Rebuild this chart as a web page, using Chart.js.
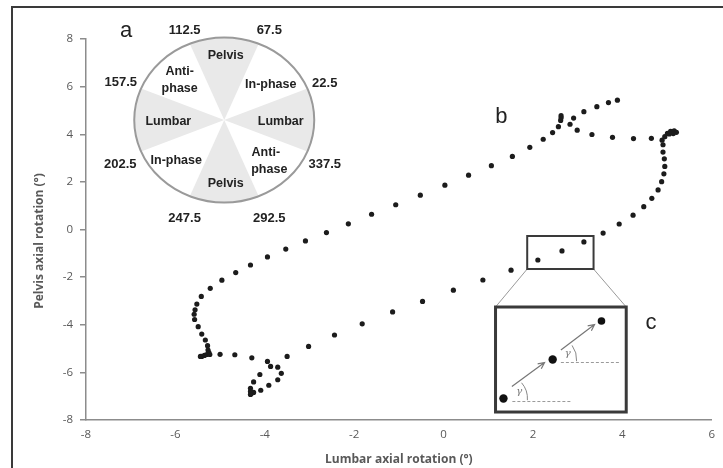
<!DOCTYPE html>
<html><head><meta charset="utf-8">
<script src="https://cdn.jsdelivr.net/npm/chart.js@4.4.1/dist/chart.umd.min.js"></script>
<style>html,body{margin:0;padding:0;background:#fff;}#wrap{width:723px;height:468px;position:relative;}</style>
</head><body><div id="wrap"><canvas id="c" width="723" height="468"></canvas></div>
<script>
// Lumbar axial rotation (x, degrees) and pelvis axial rotation (y, degrees)
const lumbar = [3.89,3.69,3.43,3.14,2.91,2.63,2.63,2.62,2.57,2.44,2.23,1.93,1.54,1.07,0.56,0.03,-0.52,-1.07,-1.61,-2.13,
  -2.62,-3.09,-3.53,-3.94,-4.32,-4.65,-4.96,-5.22,-5.42,-5.52,-5.56,-5.58,-5.57,-5.49,-5.41,-5.33,-5.28,-5.27,-5.25,-5.30,
  -5.35,-5.41,-5.44,-5.23,-5.00,-4.67,-4.29,-3.94,-3.87,-3.71,-3.63,-3.71,-3.91,-4.09,-4.25,-4.30,-4.32,-4.32,-4.32,-4.25,
  -4.11,-3.50,-3.02,-2.44,-1.82,-1.14,-0.47,0.22,0.88,1.51,2.11,2.65,3.14,3.57,3.93,4.24,4.48,4.66,4.80,4.88,
  4.93,4.95,4.94,4.91,4.91,4.89,4.95,5.01,5.08,5.16,5.21,5.14,5.05,4.65,4.25,3.78,3.32,2.99,2.83];
const pelvis = [5.43,5.33,5.16,4.95,4.68,4.78,4.69,4.58,4.32,4.07,3.79,3.45,3.07,2.68,2.28,1.86,1.44,1.04,0.64,0.24,
  -0.13,-0.48,-0.82,-1.15,-1.49,-1.81,-2.13,-2.47,-2.81,-3.13,-3.37,-3.56,-3.78,-4.08,-4.39,-4.64,-4.88,-5.06,-5.17,-5.25,
  -5.29,-5.33,-5.33,-5.25,-5.24,-5.26,-5.39,-5.54,-5.75,-5.78,-6.04,-6.31,-6.54,-6.75,-6.84,-6.89,-6.93,-6.80,-6.67,-6.40,
  -6.09,-5.33,-4.91,-4.43,-3.96,-3.46,-3.02,-2.55,-2.12,-1.71,-1.28,-0.90,-0.52,-0.15,0.23,0.60,0.96,1.31,1.66,2.01,
  2.34,2.65,2.97,3.25,3.56,3.75,3.90,4.04,4.12,4.14,4.08,4.03,4.01,3.83,3.82,3.87,3.99,4.17,4.42];
const xTicks = [-8,-6,-4,-2,0,2,4,6];
const yTicks = [-8,-6,-4,-2,0,2,4,6,8];
const xTitle = 'Lumbar axial rotation (°)';
const yTitle = 'Pelvis axial rotation (°)';
const wheelAngles = ['112.5','67.5','157.5','22.5','202.5','337.5','247.5','292.5'];

const points = lumbar.map((v,i)=>({x:v,y:pelvis[i]}));

const frame = {
  id:'frame',
  beforeDraw(chart){
    const ctx=chart.ctx; ctx.save();
    ctx.fillStyle='#fff'; ctx.fillRect(0,0,chart.width,chart.height);
    ctx.strokeStyle='#3a3a3a'; ctx.lineWidth=2;
    ctx.beginPath(); ctx.moveTo(12,chart.height+2); ctx.lineTo(12,7); ctx.lineTo(chart.width+2,7); ctx.stroke();
    ctx.restore();
  }
};

const annot = {
  id:'annot',
  afterDatasetsDraw(chart){
    const ctx=chart.ctx, xs=chart.scales.x, ys=chart.scales.y;
    const X=p=>xs.getPixelForValue((p-446.5)/45.14);
    const Y=p=>ys.getPixelForValue((229.5-p)/23.81);
    ctx.save();
    // y-axis title (placed like the reference, slightly below the plot centre)
    ctx.save();
    ctx.translate(40, Y(241)); ctx.rotate(-Math.PI/2);
    ctx.fillStyle='#595959'; ctx.textAlign='center'; ctx.textBaseline='middle';
    ctx.font='bold 12px "Open Sans", sans-serif';
    ctx.fillText(yTitle,0,0);
    ctx.restore();
    // ---- phase wheel (a)
    const cx=X(225), cy=Y(120), rx=90, ry=82.5;
    ctx.fillStyle='#e9e9e9';
    [[67.5,112.5],[157.5,202.5],[247.5,292.5],[-22.5,22.5]].forEach(([a0,a1])=>{
      ctx.beginPath(); ctx.moveTo(cx,cy);
      ctx.ellipse(cx,cy,rx,ry,0,-a0*Math.PI/180,-a1*Math.PI/180,true);
      ctx.closePath(); ctx.fill();
    });
    ctx.beginPath(); ctx.ellipse(cx,cy,rx,ry,0,0,Math.PI*2);
    ctx.strokeStyle='#9a9a9a'; ctx.lineWidth=2; ctx.stroke();
    ctx.fillStyle='#222'; ctx.textAlign='center'; ctx.textBaseline='middle';
    ctx.font='bold 13px "Liberation Sans", Arial, sans-serif';
    const angPos=[[185,30],[270.5,30],[120.5,82],[326.5,83],[120,164.5],[326.5,164],[185,218],[270.5,218.5]];
    wheelAngles.forEach((t,i)=>ctx.fillText(t,X(angPos[i][0]),Y(angPos[i][1])));
    ctx.font='bold 12.5px "Liberation Sans", Arial, sans-serif';
    [['Pelvis',226.5,56],['Anti-',180,71.5],['phase',180,88.5],['In-phase',272,85],['Lumbar',168.5,121.5],
     ['Lumbar',282,121.5],['In-phase',176.5,161],['Anti-',267,153],['phase',270.5,170],['Pelvis',226.5,183.5]]
      .forEach(([t,x,y])=>ctx.fillText(t,X(x),Y(y)));
    ctx.font='22px "Liberation Sans", Arial, sans-serif';
    ctx.fillText('a',X(126),Y(31));
    ctx.fillText('b',X(505),Y(117));
    ctx.fillText('c',X(656),Y(323));
    // ---- zoom inset (c)
    ctx.strokeStyle='#9a9a9a'; ctx.lineWidth=1;
    ctx.beginPath(); ctx.moveTo(X(531),Y(269)); ctx.lineTo(X(499),Y(307));
    ctx.moveTo(X(598),Y(269)); ctx.lineTo(X(631),Y(307)); ctx.stroke();
    ctx.strokeStyle='#3a3a3a'; ctx.lineWidth=2;
    ctx.strokeRect(X(531),Y(236),X(598)-X(531),Y(269)-Y(236));
    ctx.lineWidth=3;
    ctx.strokeRect(X(499),Y(307),X(631)-X(499),Y(412)-Y(307));
    // dashed references
    ctx.strokeStyle='#9a9a9a'; ctx.lineWidth=1; ctx.setLineDash([3,2]);
    ctx.beginPath(); ctx.moveTo(X(516),Y(401.5)); ctx.lineTo(X(575),Y(401.5));
    ctx.moveTo(X(565),Y(362.5)); ctx.lineTo(X(625),Y(362.5)); ctx.stroke();
    ctx.setLineDash([]);
    // arcs
    ctx.strokeStyle='#888'; ctx.lineWidth=1;
    ctx.beginPath(); ctx.arc(X(507),Y(398.5),24,-41*Math.PI/180,4*Math.PI/180); ctx.stroke();
    ctx.beginPath(); ctx.arc(X(556.7),Y(359.5),24,-36*Math.PI/180,4*Math.PI/180); ctx.stroke();
    // arrows
    const arrow=(x0,y0,x1,y1)=>{
      const a=Math.atan2(y1-y0,x1-x0), L=7, s=0.45;
      ctx.beginPath(); ctx.moveTo(x0,y0); ctx.lineTo(x1,y1);
      ctx.moveTo(x1-L*Math.cos(a-s),y1-L*Math.sin(a-s)); ctx.lineTo(x1,y1);
      ctx.lineTo(x1-L*Math.cos(a+s),y1-L*Math.sin(a+s)); ctx.stroke();
    };
    ctx.strokeStyle='#777'; ctx.lineWidth=1.2;
    arrow(X(515.5),Y(386.5),X(548.5),Y(362.5));
    arrow(X(565),Y(350),X(599),Y(324.5));
    // dots
    ctx.fillStyle='#111';
    [[507,398.5,4.2],[556.7,359.5,4.2],[606,321,3.8]].forEach(([x,y,r])=>{
      ctx.beginPath(); ctx.arc(X(x),Y(y),r,0,Math.PI*2); ctx.fill();
    });
    ctx.fillStyle='#777'; ctx.font='italic 10px "DejaVu Serif", serif';
    ctx.fillText('γ',X(523),Y(391)); ctx.fillText('γ',X(572),Y(353));
    ctx.restore();
  }
};

new Chart(document.getElementById('c'),{
  type:'scatter',
  data:{datasets:[{data:points,pointRadius:2.6,pointHoverRadius:2.6,backgroundColor:'#1c1c1c',borderWidth:0,showLine:false}]},
  options:{
    responsive:false, animation:false,
    layout:{padding:{left:0,right:5,top:39,bottom:0}},
    plugins:{legend:{display:false},tooltip:{enabled:false}},
    scales:{
      x:{type:'linear',min:xTicks[0],max:xTicks[xTicks.length-1],
        afterBuildTicks(s){s.ticks=xTicks.map(v=>({value:v}));},
        afterFit(s){s.height=48;},
        ticks:{color:'#595959',font:{family:'"Open Sans", sans-serif',size:11.5},padding:8,maxRotation:0,callback:v=>String(v)},
        grid:{drawOnChartArea:false,drawTicks:false},
        border:{color:'#8c8c8c',width:1.5},
        title:{display:true,text:xTitle,color:'#595959',font:{family:'"Open Sans", sans-serif',size:12,weight:'bold'},padding:{top:0,bottom:1}}
      },
      y:{type:'linear',min:yTicks[0],max:yTicks[yTicks.length-1],
        afterBuildTicks(s){s.ticks=yTicks.map(v=>({value:v}));},
        afterFit(s){s.width=86;},
        ticks:{color:'#595959',font:{family:'"Open Sans", sans-serif',size:11.5},padding:7,callback:v=>String(v)},
        grid:{drawOnChartArea:false,drawTicks:true,tickLength:6,color:'#8c8c8c',lineWidth:1.5},
        border:{color:'#8c8c8c',width:1.5},
        title:{display:false,text:yTitle}
      }
    }
  },
  plugins:[frame,annot]
});
</script></body></html>
